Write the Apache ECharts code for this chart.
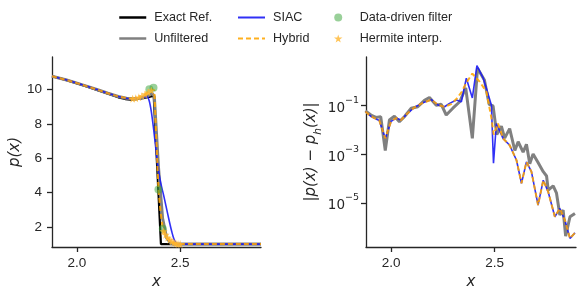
<!DOCTYPE html>
<html><head><meta charset="utf-8">
<script src="https://cdn.jsdelivr.net/npm/echarts@6/dist/echarts.min.js"></script>
<style>html,body{margin:0;padding:0;background:#fff}#c{width:581px;height:295px}</style>
</head><body><div id="c"></div>
<script>
// ---------- Left panel: p(x) ----------
const exactX = [1.879, 1.95, 2.0, 2.05, 2.1, 2.15, 2.2, 2.234, 2.26, 2.29, 2.32, 2.35, 2.372, 2.407, 2.45, 2.6, 2.892];
const exactY = [10.78, 10.55, 10.36, 10.17, 9.97, 9.76, 9.55, 9.45, 9.42, 9.44, 9.5, 9.58, 9.65, 1.0, 1.0, 1.0, 1.0];

const unfiltX = [1.879, 1.95, 2.0, 2.05, 2.1, 2.15, 2.2, 2.24, 2.27, 2.30, 2.33, 2.35, 2.365, 2.375, 2.395, 2.415, 2.435, 2.455, 2.47, 2.6, 2.892];
const unfiltY = [10.78, 10.56, 10.38, 10.19, 9.99, 9.79, 9.6, 9.5, 9.47, 9.5, 9.58, 9.68, 9.78, 9.6, 5.5, 2.5, 1.35, 1.05, 1.0, 1.0, 1.0];

const siacX = [1.879, 1.95, 2.0, 2.05, 2.1, 2.15, 2.2, 2.24, 2.27, 2.30, 2.33, 2.34, 2.35, 2.36, 2.37, 2.38, 2.39, 2.40, 2.41, 2.42, 2.43, 2.44, 2.45, 2.46, 2.47, 2.48, 2.49, 2.5, 2.892];
const siacY = [10.78, 10.56, 10.38, 10.19, 9.99, 9.79, 9.6, 9.5, 9.47, 9.52, 9.58, 9.58, 9.35, 8.75, 7.85, 6.8, 5.75, 4.95, 4.35, 3.85, 3.3, 2.75, 2.2, 1.7, 1.3, 1.08, 1.0, 1.0, 1.0];

const hybX = [1.879, 1.95, 2.0, 2.05, 2.1, 2.15, 2.2, 2.24, 2.27, 2.30, 2.33, 2.35, 2.365, 2.375, 2.385, 2.395, 2.405, 2.416, 2.43, 2.45, 2.47, 2.49, 2.51, 2.892];
const hybY = [10.78, 10.56, 10.38, 10.19, 9.99, 9.79, 9.6, 9.5, 9.47, 9.53, 9.72, 9.9, 10.02, 9.95, 7.0, 4.18, 2.9, 1.9, 1.45, 1.2, 1.06, 1.0, 1.0, 1.0];

const ddfX = [2.351, 2.371, 2.395, 2.416];
const ddfY = [10.02, 10.11, 4.18, 1.9];

const hermX = [2.27, 2.285, 2.30, 2.315, 2.33, 2.345, 2.36, 2.42, 2.43, 2.44, 2.45, 2.46, 2.47, 2.48, 2.49, 2.50];
const hermY = [9.47, 9.5, 9.55, 9.63, 9.73, 9.84, 9.95, 1.75, 1.55, 1.38, 1.25, 1.15, 1.08, 1.03, 1.0, 1.0];

const leftYTicks = [2, 4, 6, 8, 10];
const xTicks = [2.0, 2.5];

// ---------- Right panel: |p(x) - p_h(x)| ----------
const errUnfX = [1.876, 1.903, 1.927, 1.950, 1.972, 1.992, 2.016, 2.040, 2.064, 2.097, 2.129, 2.161, 2.185, 2.218, 2.242, 2.266, 2.298, 2.331, 2.360, 2.392, 2.417, 2.450, 2.473, 2.492, 2.510, 2.532, 2.548, 2.572, 2.597, 2.613, 2.637, 2.653, 2.669, 2.685, 2.709, 2.734, 2.750, 2.758, 2.782, 2.798, 2.814, 2.830, 2.842, 2.863, 2.887];
const errUnfY = [0.059, 0.040, 0.032, 0.034, 0.0014, 0.025, 0.036, 0.021, 0.034, 0.076, 0.087, 0.16, 0.21, 0.10, 0.11, 0.040, 0.076, 0.14, 0.52, 0.0044, 3.3, 1.1, 0.11, 0.095, 0.0063, 0.014, 0.0045, 0.011, 0.0014, 0.0032, 0.0012, 0.0025, 4.0e-4, 1.0e-3, 4.5e-4, 1.9e-4, 1.26e-4, 3.3e-5, 5.0e-5, 2.5e-5, 3.2e-6, 5.0e-6, 4.3e-7, 2.7e-6, 3.7e-6];

const errSiacX = [1.876, 1.903, 1.943, 1.972, 2.000, 2.024, 2.048, 2.080, 2.113, 2.153, 2.194, 2.229, 2.258, 2.282, 2.315, 2.339, 2.363, 2.392, 2.414, 2.445, 2.470, 2.484, 2.494, 2.508, 2.540, 2.572, 2.605, 2.629, 2.653, 2.677, 2.709, 2.734, 2.758, 2.790, 2.814, 2.839, 2.863, 2.887];
const errSiacY = [0.055, 0.035, 0.024, 0.0044, 0.022, 0.030, 0.025, 0.047, 0.083, 0.126, 0.17, 0.10, 0.087, 0.12, 0.166, 0.14, 1.29, 0.20, 4.2, 1.26, 0.25, 0.10, 4.2e-4, 0.018, 0.0044, 0.0023, 5.6e-4, 6.3e-5, 4.8e-4, 1.9e-4, 8.1e-6, 8.5e-5, 2.8e-5, 2.7e-6, 5.9e-6, 1.9e-6, 3.5e-7, 5.9e-7];

const errHybX = [1.876, 1.903, 1.943, 1.972, 2.000, 2.024, 2.048, 2.080, 2.113, 2.153, 2.194, 2.229, 2.258, 2.290, 2.315, 2.340, 2.365, 2.392, 2.427, 2.460, 2.484, 2.495, 2.516, 2.540, 2.572, 2.605, 2.629, 2.653, 2.677, 2.709, 2.734, 2.758, 2.790, 2.814, 2.839, 2.863, 2.887];
const errHybY = [0.055, 0.035, 0.024, 0.0044, 0.022, 0.030, 0.025, 0.047, 0.083, 0.126, 0.17, 0.10, 0.087, 0.112, 0.18, 0.35, 0.89, 2.0, 0.93, 0.36, 0.030, 0.0063, 0.018, 0.0044, 0.0023, 5.6e-4, 6.3e-5, 4.8e-4, 1.9e-4, 8.1e-6, 8.5e-5, 2.8e-5, 2.7e-6, 5.9e-6, 1.9e-6, 3.5e-7, 5.9e-7];

const rightYTicks = [1e-5, 1e-3, 1e-1];

const pairs = (xs, ys) => xs.map((x, i) => [x, ys[i]]);

const INK = '#262626';
const SANS = '"Liberation Sans", Arial, sans-serif';
const MATH = '"DejaVu Sans", sans-serif';
const C = {
  exact: '#000000', unf: '#808080', siac: 'rgba(25,25,245,0.9)', hyb: 'rgba(255,165,0,0.88)',
  ddf: 'rgba(60,165,60,0.65)', herm: '#ffb52e'
};

const axisLineCommon = { show: true, lineStyle: { color: INK, width: 1.3 } };
const tickCommon = { show: true, length: 5, lineStyle: { color: INK, width: 1.3 } };

function xAxis(gridIndex) {
  return {
    type: 'value', gridIndex, min: 1.879, max: 2.892,
    axisLine: axisLineCommon,
    axisTick: Object.assign({ customValues: xTicks }, tickCommon),
    axisLabel: { customValues: xTicks, formatter: v => v.toFixed(1), color: INK, fontSize: 13.5, fontFamily: SANS, margin: 9 },
    splitLine: { show: false },
    name: 'x', nameLocation: 'middle', nameGap: 26,
    nameTextStyle: { fontFamily: MATH, fontStyle: 'italic', fontSize: 15, color: INK }
  };
}

const legendText = { fontSize: 12.6, fontFamily: SANS, color: INK, lineHeight: 15, padding: [0, 0, 0, 3] };
const hiddenSymbol = { color: 'rgba(0,0,0,0)', borderWidth: 0, opacity: 0 };

const option = {
  animation: false,
  backgroundColor: '#fff',
  legend: [
    { data: ['Exact Ref.', 'Unfiltered'], left: 118, top: 10, orient: 'vertical', padding: 0, itemGap: 6, itemWidth: 27, itemHeight: 12,
      itemStyle: hiddenSymbol, lineStyle: { width: 2.5 }, textStyle: legendText },
    { data: ['SIAC', 'Hybrid'], left: 237, top: 10, orient: 'vertical', padding: 0, itemGap: 6, itemWidth: 27, itemHeight: 12,
      itemStyle: hiddenSymbol, lineStyle: { width: 2 }, textStyle: legendText },
    { data: ['Data-driven filter', 'Hermite interp.'], left: 334, top: 10, orient: 'vertical', padding: 0, itemGap: 6, itemWidth: 27, itemHeight: 8,
      textStyle: legendText }
  ],
  grid: [
    { left: 52, top: 57, width: 209, height: 190 },
    { left: 366, top: 57, width: 210, height: 190 }
  ],
  xAxis: [xAxis(0), xAxis(1)],
  yAxis: [
    {
      type: 'value', gridIndex: 0, min: 0.83, max: 11.9,
      axisLine: axisLineCommon,
      axisTick: Object.assign({ customValues: leftYTicks }, tickCommon),
      axisLabel: { customValues: leftYTicks, color: INK, fontSize: 13.5, fontFamily: SANS, margin: 10 },
      splitLine: { show: false },
      name: 'p(x)', nameLocation: 'middle', nameGap: 29, nameRotate: 90,
      nameTextStyle: { fontFamily: MATH, fontStyle: 'italic', fontSize: 15, color: INK }
    },
    {
      type: 'log', logBase: 10, gridIndex: 1, min: 1.55e-7, max: 9.55,
      axisLine: axisLineCommon,
      axisTick: Object.assign({ customValues: rightYTicks }, tickCommon),
      axisLabel: {
        customValues: rightYTicks, margin: 7,
        formatter: v => '{b|10}{s|\u2212' + Math.abs(Math.round(Math.log10(v))) + '}',
        rich: {
          b: { fontFamily: MATH, fontSize: 13.5, color: INK, verticalAlign: 'bottom', lineHeight: 20 },
          s: { fontFamily: MATH, fontSize: 9.5, color: INK, verticalAlign: 'top', lineHeight: 12 }
        }
      },
      splitLine: { show: false },
      name: '{t||p(x) \u2212 p}{h|h}{t|(x)|}', nameLocation: 'middle', nameGap: 39, nameRotate: 90,
      nameTextStyle: {
        fontFamily: MATH, fontSize: 15, color: INK,
        rich: {
          t: { fontFamily: MATH, fontStyle: 'italic', fontSize: 15, color: INK, verticalAlign: 'top', lineHeight: 20 },
          h: { fontFamily: MATH, fontStyle: 'italic', fontSize: 10.5, color: INK, verticalAlign: 'bottom', lineHeight: 20 }
        }
      }
    }
  ],
  series: [
    { name: 'Exact Ref.', type: 'line', xAxisIndex: 0, yAxisIndex: 0, data: pairs(exactX, exactY), symbol: 'none',
      lineStyle: { color: C.exact, width: 2.2 }, itemStyle: { color: C.exact }, z: 2 },
    { name: 'Unfiltered', type: 'line', xAxisIndex: 0, yAxisIndex: 0, data: pairs(unfiltX, unfiltY), symbol: 'none',
      lineStyle: { color: C.unf, width: 3 }, itemStyle: { color: C.unf }, z: 3 },
    { name: 'SIAC', type: 'line', xAxisIndex: 0, yAxisIndex: 0, data: pairs(siacX, siacY), symbol: 'none', smooth: 0.3,
      lineStyle: { color: C.siac, width: 1.6 }, itemStyle: { color: C.siac }, z: 4 },
    { name: 'Hybrid', type: 'line', xAxisIndex: 0, yAxisIndex: 0, data: pairs(hybX, hybY), symbol: 'none',
      lineStyle: { color: C.hyb, width: 2, type: [5, 3] }, itemStyle: { color: C.hyb }, z: 5 },
    { name: 'Data-driven filter', type: 'scatter', xAxisIndex: 0, yAxisIndex: 0, data: pairs(ddfX, ddfY), symbol: 'circle', symbolSize: 8,
      itemStyle: { color: C.ddf }, z: 6 },
    { name: 'Hermite interp.', type: 'scatter', xAxisIndex: 0, yAxisIndex: 0, data: pairs(hermX, hermY),
      symbol: 'path://M50,0 L61,35 L98,35 L68,57 L79,91 L50,70 L21,91 L32,57 L2,35 L39,35 Z', symbolSize: 8,
      itemStyle: { color: C.herm }, z: 7 },

    { name: 'Unfiltered', type: 'line', xAxisIndex: 1, yAxisIndex: 1, data: pairs(errUnfX, errUnfY), symbol: 'none',
      lineStyle: { color: C.unf, width: 3 }, itemStyle: { color: C.unf }, z: 3 },
    { name: 'SIAC', type: 'line', xAxisIndex: 1, yAxisIndex: 1, data: pairs(errSiacX, errSiacY), symbol: 'none',
      lineStyle: { color: C.siac, width: 1.6 }, itemStyle: { color: C.siac }, z: 4 },
    { name: 'Hybrid', type: 'line', xAxisIndex: 1, yAxisIndex: 1, data: pairs(errHybX, errHybY), symbol: 'none',
      lineStyle: { color: C.hyb, width: 2, type: [5, 3] }, itemStyle: { color: C.hyb }, z: 5 }
  ]
};

const chart = echarts.init(document.getElementById('c'), null, { renderer: 'canvas' });
chart.setOption(option);
</script>
</body></html>
